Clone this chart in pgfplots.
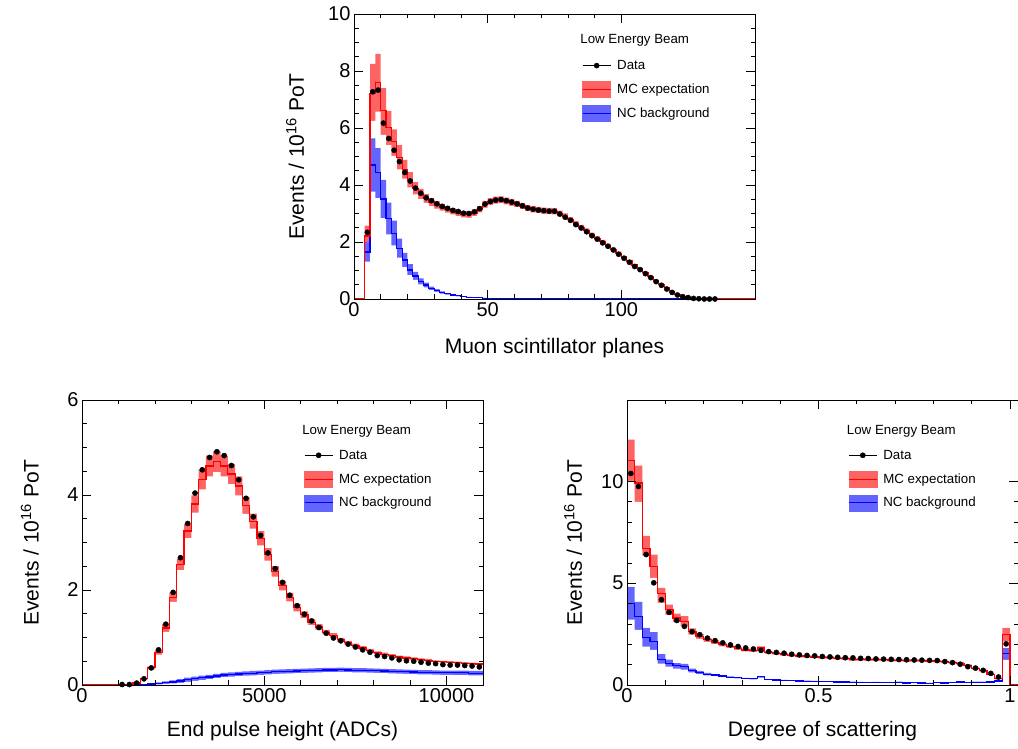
\documentclass[border=0pt]{standalone}
\usepackage{fontspec}
\setmainfont{Liberation Sans}
\usepackage{pgfplots}
\pgfplotsset{compat=1.18}
\usepackage{pgfplotstable}
\definecolor{redband}{RGB}{255,100,100}
\definecolor{blueband}{RGB}{100,100,255}

\pgfplotstableread{
x d mc ml mh nc nl nh
0 nan 0 0 0 0 0 0
3 nan 0 0 0 0 0 0
5 2.34 2.21 1.98 2.57 1.65 1.31 2.00
7 7.27 7.22 6.25 8.25 4.70 3.77 5.64
9 7.33 7.61 6.57 8.60 4.44 3.54 5.29
11 6.17 6.60 5.76 7.40 3.51 2.84 4.18
13 5.63 6.02 5.40 6.60 2.83 2.27 3.38
15 5.22 5.52 5.02 5.95 2.30 1.88 2.75
17 4.82 4.97 4.55 5.40 1.78 1.45 2.12
19 4.44 4.55 4.22 4.88 1.37 1.12 1.62
21 4.14 4.18 3.92 4.45 1.02 0.84 1.22
23 3.89 3.88 3.67 4.10 0.81 0.67 0.95
25 3.71 3.68 3.50 3.86 0.61 0.51 0.72
27 3.55 3.53 3.37 3.69 0.49 0.41 0.57
29 3.45 3.40 3.26 3.54 0.37 0.31 0.43
31 3.34 3.30 3.17 3.43 0.30 0.25 0.35
33 3.25 3.22 3.10 3.34 0.23 0.19 0.27
35 3.18 3.15 3.03 3.27 0.18 0.15 0.21
37 3.11 3.08 2.97 3.19 0.14 0.12 0.16
39 3.07 3.02 2.91 3.13 0.11 0.09 0.13
41 3.01 2.97 2.86 3.08 0.08 0.07 0.09
43 3.00 2.96 2.85 3.07 0.06 0.05 0.07
45 3.06 3.02 2.91 3.13 0.05 0.04 0.06
47 3.17 3.15 3.04 3.26 0.04 0.03 0.05
49 3.33 3.32 3.20 3.44 0.03 0.02 0.04
51 3.42 3.42 3.30 3.54 0.02 0.015 0.025
53 3.47 3.47 3.35 3.59 0.015 0.01 0.02
55 3.49 3.48 3.36 3.60 0.01 0.008 0.012
57 3.45 3.44 3.32 3.56 0.01 0.008 0.012
59 3.40 3.39 3.27 3.51 0.008 0.006 0.01
61 3.34 3.33 3.22 3.44 0.006 0.005 0.008
63 3.27 3.26 3.15 3.37 0.005 0.004 0.006
65 3.19 3.19 3.08 3.30 0.004 0.003 0.005
67 3.15 3.15 3.04 3.26 0.003 0.002 0.004
69 3.12 3.12 3.01 3.23 0.003 0.002 0.004
71 3.10 3.10 2.99 3.21 0.002 0.001 0.003
73 3.08 3.09 2.98 3.20 0.002 0.001 0.003
75 3.08 3.08 2.97 3.19 0.002 0.001 0.003
77 2.98 3.00 2.90 3.10 0.001 0.001 0.002
79 2.87 2.90 2.80 3.00 0.001 0.001 0.002
81 2.76 2.78 2.69 2.87 0.001 0.001 0.002
83 2.61 2.64 2.55 2.73 0.001 0.001 0.002
85 2.49 2.52 2.44 2.60 0.001 0.001 0.002
87 2.36 2.40 2.32 2.48 0.001 0.001 0.002
89 2.22 2.26 2.19 2.33 0.001 0.001 0.002
91 2.10 2.13 2.06 2.20 0.001 0.001 0.002
93 1.97 2.01 1.95 2.07 0.001 0.001 0.002
95 1.85 1.88 1.82 1.94 0.001 0.001 0.002
97 1.72 1.75 1.70 1.80 0.001 0.001 0.002
99 1.57 1.61 1.56 1.66 0.001 0.001 0.002
101 1.43 1.47 1.43 1.51 0 0 0
103 1.29 1.33 1.29 1.37 0 0 0
105 1.14 1.19 1.15 1.23 0 0 0
107 1.03 1.07 1.04 1.10 0 0 0
109 0.89 0.93 0.90 0.96 0 0 0
111 0.75 0.79 0.77 0.81 0 0 0
113 0.61 0.65 0.63 0.67 0 0 0
115 0.48 0.52 0.50 0.54 0 0 0
117 0.35 0.39 0.38 0.40 0 0 0
119 0.23 0.27 0.26 0.28 0 0 0
121 0.14 0.17 0.16 0.18 0 0 0
123 0.08 0.10 0.09 0.11 0 0 0
125 0.05 0.06 0.055 0.065 0 0 0
127 0.02 0.03 0.028 0.032 0 0 0
129 0.01 0.02 0.018 0.022 0 0 0
131 0.00 0.01 0.009 0.011 0 0 0
133 0.00 0 0 0 0 0 0
135 0.00 0 0 0 0 0 0
152 nan 0 0 0 0 0 0
}\topdata

\pgfplotstableread{
x d mc ml mh nc nl nh
0 nan 0 0 0 0 0 0
1100 0.01 0 0 0 0 0 0
1300 0.01 0.01 0.005 0.015 0 0 0
1500 0.04 0.04 0.035 0.045 0.002 0.0 0.006
1700 0.13 0.13 0.12 0.14 0.01 0.002 0.018
1900 0.36 0.36 0.33 0.39 0.02 0.008 0.032
2100 0.74 0.69 0.64 0.74 0.035 0.015 0.055
2300 1.28 1.20 1.12 1.28 0.05 0.025 0.075
2500 1.95 1.85 1.75 1.95 0.065 0.035 0.095
2700 2.68 2.54 2.42 2.66 0.085 0.045 0.125
2900 3.40 3.24 3.09 3.39 0.11 0.067 0.153
3100 4.04 3.81 3.63 3.99 0.13 0.085 0.175
3300 4.53 4.33 4.12 4.54 0.15 0.105 0.195
3500 4.79 4.61 4.39 4.83 0.17 0.125 0.215
3700 4.91 4.70 4.48 4.92 0.19 0.145 0.235
3900 4.83 4.61 4.39 4.83 0.21 0.165 0.255
4100 4.62 4.44 4.23 4.65 0.22 0.175 0.265
4300 4.32 4.19 3.99 4.39 0.23 0.185 0.275
4500 3.93 3.78 3.60 3.96 0.24 0.195 0.285
4700 3.54 3.45 3.29 3.61 0.25 0.205 0.295
4900 3.15 3.09 2.94 3.24 0.26 0.215 0.305
5100 2.78 2.75 2.62 2.88 0.27 0.225 0.315
5300 2.45 2.39 2.28 2.50 0.28 0.235 0.325
5500 2.16 2.09 1.99 2.19 0.285 0.24 0.33
5700 1.89 1.85 1.76 1.94 0.29 0.245 0.335
5900 1.67 1.63 1.55 1.71 0.295 0.25 0.34
6100 1.49 1.48 1.41 1.55 0.30 0.255 0.345
6300 1.35 1.32 1.26 1.38 0.305 0.26 0.35
6500 1.21 1.22 1.16 1.28 0.31 0.265 0.355
6700 1.09 1.11 1.06 1.16 0.315 0.27 0.36
6900 0.99 1.04 0.99 1.09 0.315 0.27 0.36
7100 0.93 0.95 0.91 0.99 0.32 0.275 0.365
7300 0.86 0.89 0.85 0.93 0.315 0.27 0.36
7500 0.80 0.83 0.79 0.87 0.31 0.265 0.355
7700 0.74 0.78 0.74 0.82 0.31 0.265 0.355
7900 0.69 0.73 0.70 0.76 0.305 0.26 0.35
8100 0.62 0.68 0.65 0.71 0.30 0.255 0.345
8300 0.60 0.65 0.62 0.68 0.295 0.25 0.34
8500 0.57 0.62 0.59 0.65 0.29 0.245 0.335
8700 0.53 0.59 0.56 0.62 0.285 0.24 0.33
8900 0.51 0.57 0.54 0.60 0.28 0.235 0.325
9100 0.50 0.55 0.52 0.58 0.275 0.23 0.32
9300 0.48 0.53 0.50 0.56 0.27 0.225 0.315
9500 0.46 0.52 0.49 0.55 0.27 0.225 0.315
9700 0.45 0.50 0.48 0.52 0.265 0.22 0.31
9900 0.43 0.49 0.47 0.51 0.26 0.215 0.305
10100 0.42 0.48 0.46 0.50 0.26 0.215 0.305
10300 0.42 0.47 0.45 0.49 0.255 0.21 0.30
10500 0.41 0.46 0.44 0.48 0.255 0.21 0.30
10700 0.40 0.45 0.43 0.47 0.25 0.205 0.295
10900 0.38 0.44 0.42 0.46 0.25 0.205 0.295
11100 nan 0.44 0.42 0.46 0.25 0.205 0.295
}\bldata

\pgfplotstableread{
x d mc ml mh nc nl nh
-0.01 nan 0 0 0 0 0 0
0.01 10.39 11.02 10.03 12.05 4.00 3.21 4.82
0.03 9.75 9.92 9.00 10.77 3.37 2.71 4.08
0.05 6.41 6.71 6.36 7.32 2.34 1.89 2.80
0.07 5.02 5.84 5.26 6.41 2.14 1.72 2.60
0.09 4.19 4.49 4.03 4.77 1.27 1.05 1.52
0.11 3.57 3.70 3.45 3.95 1.07 0.90 1.25
0.13 3.17 3.29 3.10 3.50 0.94 0.80 1.08
0.15 2.88 3.13 2.88 3.38 0.90 0.76 1.04
0.17 2.62 2.63 2.48 2.78 0.71 0.62 0.80
0.19 2.47 2.38 2.26 2.50 0.61 0.54 0.68
0.21 2.30 2.22 2.12 2.32 0.53 0.47 0.59
0.23 2.18 2.10 2.01 2.19 0.49 0.44 0.54
0.25 2.07 1.98 1.90 2.06 0.44 0.40 0.48
0.27 1.97 1.88 1.81 1.95 0.38 0.34 0.42
0.29 1.89 1.80 1.73 1.87 0.35 0.32 0.38
0.31 1.82 1.72 1.65 1.79 0.32 0.29 0.35
0.33 1.77 1.68 1.61 1.75 0.30 0.27 0.33
0.35 1.70 1.82 1.74 1.90 0.40 0.36 0.44
0.37 1.64 1.60 1.54 1.66 0.27 0.25 0.29
0.39 1.60 1.55 1.49 1.61 0.25 0.23 0.27
0.41 1.56 1.50 1.44 1.56 0.23 0.21 0.25
0.43 1.51 1.46 1.40 1.52 0.21 0.19 0.23
0.45 1.48 1.42 1.36 1.48 0.20 0.18 0.22
0.47 1.45 1.40 1.34 1.46 0.19 0.17 0.21
0.49 1.43 1.38 1.32 1.44 0.18 0.16 0.20
0.51 1.40 1.36 1.30 1.42 0.17 0.15 0.19
0.53 1.38 1.34 1.28 1.40 0.16 0.14 0.18
0.55 1.36 1.32 1.26 1.38 0.15 0.13 0.17
0.57 1.34 1.30 1.24 1.36 0.15 0.13 0.17
0.59 1.33 1.24 1.18 1.30 0.14 0.12 0.16
0.61 1.31 1.26 1.20 1.32 0.13 0.11 0.15
0.63 1.30 1.25 1.19 1.31 0.12 0.10 0.14
0.65 1.28 1.25 1.19 1.31 0.13 0.11 0.15
0.67 1.27 1.24 1.18 1.30 0.12 0.10 0.14
0.69 1.26 1.22 1.16 1.28 0.11 0.09 0.13
0.71 1.25 1.22 1.16 1.28 0.14 0.12 0.16
0.73 1.24 1.20 1.14 1.26 0.10 0.08 0.12
0.75 1.23 1.21 1.15 1.27 0.11 0.09 0.13
0.77 1.22 1.19 1.13 1.25 0.10 0.08 0.12
0.79 1.21 1.18 1.12 1.24 0.09 0.07 0.11
0.81 1.20 1.17 1.11 1.23 0.12 0.10 0.14
0.83 1.15 1.14 1.08 1.20 0.10 0.08 0.12
0.85 1.10 1.10 1.04 1.16 0.11 0.09 0.13
0.87 1.02 1.06 1.00 1.12 0.15 0.12 0.18
0.89 0.90 0.96 0.91 1.01 0.11 0.09 0.13
0.91 0.83 0.82 0.77 0.87 0.14 0.11 0.17
0.93 0.72 0.70 0.66 0.74 0.13 0.10 0.16
0.95 0.57 0.52 0.49 0.55 0.15 0.12 0.18
0.97 0.39 0.30 0.28 0.32 0.20 0.16 0.24
0.99 2.02 2.47 2.14 2.80 1.56 1.23 1.81
1.01 nan 0 0 0 0 0 0
1.06 nan 0 0 0 0 0 0
}\brdata

\pgfplotsset{
  rootstyle/.style={
    scale only axis, anchor=south west,
    height=285pt,
    ymin=0, axis on top,
    tick align=inside,
    major tick length=9pt, minor tick length=4.5pt,
    every tick/.style={black, line width=0.6pt},
    axis line style={black, line width=0.8pt},
    ticklabel style={font=\fontsize{20}{24}\selectfont},
    /pgf/number format/assume math mode=true,
    /pgf/number format/1000 sep={},
    scaled x ticks=false, scaled y ticks=false,
    label style={font=\fontsize{21}{25}\selectfont},
    ylabel={Events / 10\textsuperscript{16} PoT},
    legend style={draw=none, fill=none, inner sep=0pt, outer sep=0pt,
      anchor=north west, font=\fontsize{13.3}{16}\selectfont,
      row sep=7.5pt, column sep=6pt, nodes={inner sep=0pt}},
    legend cell align=left,
  },
  dataimg/.style={legend image code/.code={
      \path[draw=none, fill=none] (0pt,-8pt) rectangle (28pt,8pt);
      \draw[black, line width=0.5pt] (0pt,0pt) -- (28pt,0pt);
      \fill[black] (14pt,0pt) circle (2.6pt);}},
  mcimg/.style={legend image code/.code={
      \fill[redband] (0pt,-8pt) rectangle (28pt,8pt);
      \draw[red, line width=1pt] (0pt,0pt) -- (28pt,0pt);}},
  ncimg/.style={legend image code/.code={
      \fill[blueband] (0pt,-8pt) rectangle (28pt,8pt);
      \draw[blue, line width=1pt] (0pt,0pt) -- (28pt,0pt);}},
}

\newcommand{\drawpanel}[1]{%
  \addplot[draw=none, fill=redband, const plot mark mid, forget plot] table[x=x, y=mh]{#1} \closedcycle;
  \addplot[draw=none, fill=white, const plot mark mid, forget plot] table[x=x, y=ml]{#1} \closedcycle;
  \addplot[draw=none, fill=blueband, const plot mark mid, forget plot] table[x=x, y=nh]{#1} \closedcycle;
  \addplot[draw=none, fill=white, const plot mark mid, forget plot] table[x=x, y=nl]{#1} \closedcycle;
  \addplot[blue, line width=1.2pt, const plot mark mid, forget plot] table[x=x, y=nc]{#1};
  \addplot[red, line width=1.2pt, const plot mark mid, forget plot] table[x=x, y=mc]{#1};
  \addplot[only marks, mark=*, mark size=2.6pt, black, forget plot] table[x=x, y=d]{#1};
  \addlegendimage{dataimg}\addlegendentry{Data}
  \addlegendimage{mcimg}\addlegendentry{MC expectation}
  \addlegendimage{ncimg}\addlegendentry{NC background}
}

\begin{document}
\begin{tikzpicture}
\useasboundingbox (0pt,0pt) rectangle (1018pt,749pt);

% top panel
\begin{axis}[rootstyle, at={(354pt,450pt)}, width=401pt,
  xmin=0, xmax=150, ymax=10,
  xtick={0,50,100}, minor x tick num=4,
  ytick={0,2,4,6,8,10}, minor y tick num=3,
  xlabel={Muon scintillator planes},
  xlabel style={at={(axis description cs:0.5,-0.172)}, anchor=center},
  ylabel style={at={(axis description cs:-0.147,0.5)}, anchor=center},
  legend style={at={(axis description cs:0.569,0.847)}},
]
\drawpanel{\topdata}
\node[anchor=west, inner sep=0pt, font=\fontsize{13.3}{16}\selectfont] at (axis description cs:0.564,0.908) {Low Energy Beam};
\end{axis}

% bottom left
\begin{axis}[rootstyle, at={(82pt,64pt)}, width=401pt,
  xmin=0, xmax=11000, ymax=6,
  xtick={0,5000,10000}, minor x tick num=4,
  ytick={0,2,4,6}, minor y tick num=3,
  xlabel={End pulse height (ADCs)},
  xlabel style={at={(axis description cs:0.5,-0.161)}, anchor=center},
  ylabel style={at={(axis description cs:-0.13,0.5)}, anchor=center},
  legend style={at={(axis description cs:0.554,0.834)}},
]
\drawpanel{\bldata}
\node[anchor=west, inner sep=0pt, font=\fontsize{13.3}{16}\selectfont] at (axis description cs:0.549,0.891) {Low Energy Beam};
\end{axis}

% bottom right
\begin{axis}[rootstyle, at={(627pt,64pt)}, width=391pt,
  xmin=0, xmax=1.021, ymax=14,
  xtick={0,0.5,1}, minor x tick num=4,
  ytick={0,5,10}, minor y tick num=4,
  xlabel={Degree of scattering},
  xlabel style={at={(axis description cs:0.5,-0.161)}, anchor=center},
  ylabel style={at={(axis description cs:-0.138,0.5)}, anchor=center},
  legend style={at={(axis description cs:0.566,0.834)}},
]
\drawpanel{\brdata}
\node[anchor=west, inner sep=0pt, font=\fontsize{13.3}{16}\selectfont] at (axis description cs:0.562,0.891) {Low Energy Beam};
\end{axis}
\end{tikzpicture}
\end{document}
